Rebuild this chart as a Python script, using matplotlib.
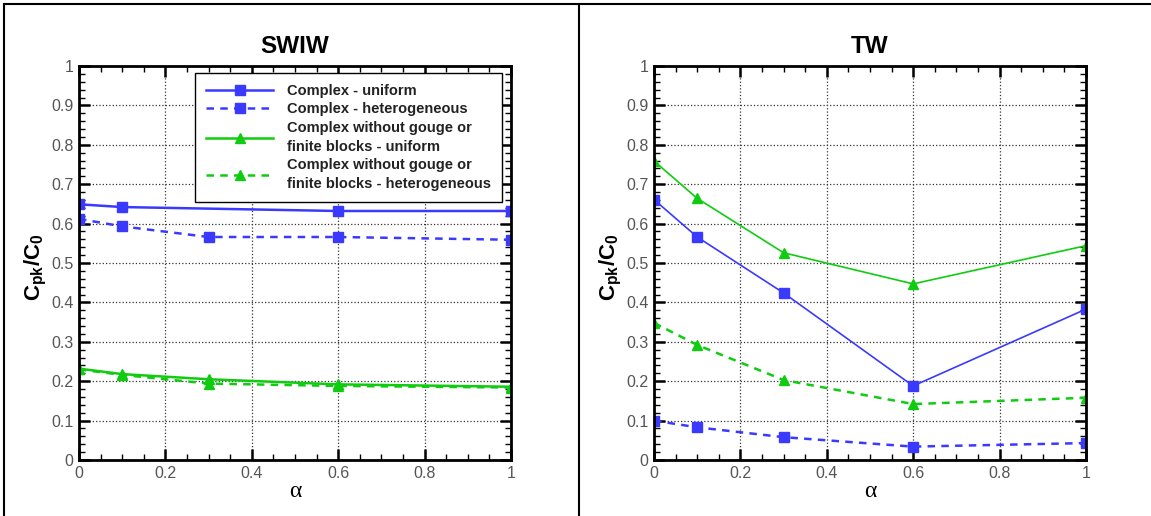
import matplotlib
matplotlib.use("Agg")
import matplotlib.pyplot as plt
from matplotlib.lines import Line2D
from matplotlib.ticker import MultipleLocator

plt.rcParams['font.family'] = ['Liberation Sans', 'DejaVu Sans']
plt.rcParams['mathtext.fontset'] = 'custom'
plt.rcParams['mathtext.rm'] = 'Liberation Sans'
plt.rcParams['mathtext.bf'] = 'Liberation Sans:bold'
plt.rcParams['mathtext.it'] = 'Liberation Sans:italic'

# ---- data ----
alpha = [0, 0.1, 0.3, 0.6, 1.0]
alpha_swiw_uni = [0, 0.1, 0.6, 1.0]

swiw_complex_uni = [0.649, 0.642, 0.632, 0.632]
swiw_complex_het = [0.612, 0.593, 0.566, 0.566, 0.559]
swiw_simple_uni = [0.232, 0.218, 0.205, 0.192, 0.186]
swiw_simple_het = [0.230, 0.216, 0.194, 0.188, 0.184]

tw_complex_uni = [0.661, 0.566, 0.424, 0.188, 0.383]
tw_complex_het = [0.100, 0.083, 0.058, 0.034, 0.043]
tw_simple_uni = [0.759, 0.664, 0.526, 0.447, 0.544]
tw_simple_het = [0.348, 0.292, 0.203, 0.142, 0.158]

labels = ["Complex - uniform",
          "Complex - heterogeneous",
          "Complex without gouge or\nfinite blocks - uniform",
          "Complex without gouge or\nfinite blocks - heterogeneous"]

BLUE = "#3a3aff"
GREEN = "#10cc10"
DASH = (0, (3, 2.5))

fig = plt.figure(figsize=(11.51, 5.16), dpi=100)
ax1 = fig.add_axes([0.0686, 0.1085, 0.3753, 0.7636])
ax2 = fig.add_axes([0.5682, 0.1085, 0.3753, 0.7636])


def style_axes(ax, title):
    ax.set_xlim(0, 1)
    ax.set_ylim(0, 1)
    ax.xaxis.set_major_locator(MultipleLocator(0.2))
    ax.xaxis.set_minor_locator(MultipleLocator(0.05))
    ax.yaxis.set_major_locator(MultipleLocator(0.1))
    ax.yaxis.set_minor_locator(MultipleLocator(0.02))
    ax.tick_params(which='both', direction='in', top=True, right=True, color='k')
    ax.tick_params(which='major', length=8, width=1.8, labelsize=11.5,
                   labelcolor='#555555', pad=4)
    ax.tick_params(which='minor', length=4.5, width=1.0)
    ax.xaxis.set_major_formatter(plt.FuncFormatter(lambda v, p: f"{v:g}"))
    ax.yaxis.set_major_formatter(plt.FuncFormatter(lambda v, p: f"{v:g}"))
    for s in ax.spines.values():
        s.set_linewidth(2)
    ax.grid(True, which='major', color='#333333', linestyle=':', linewidth=0.9)
    ax.set_axisbelow(True)
    ax.set_title(title, fontsize=17.5, fontweight='bold', pad=9)
    ax.set_xlabel("α", fontsize=17, family=['Liberation Serif', 'DejaVu Serif'], labelpad=0)
    ax.set_ylabel(r"$\mathbf{C_{pk}/C_0}$", fontsize=16)
    ax.yaxis.set_label_coords(-0.07, 0.49)


# SWIW
ax1.plot(alpha_swiw_uni, swiw_complex_uni, color=BLUE, lw=1.8, marker='s', ms=7, label=labels[0])
ax1.plot(alpha, swiw_complex_het, color=BLUE, lw=1.8, ls=DASH, marker='s', ms=7, label=labels[1])
ax1.plot(alpha, swiw_simple_uni, color=GREEN, lw=1.8, marker='^', ms=7, label=labels[2])
ax1.plot(alpha, swiw_simple_het, color=GREEN, lw=1.8, ls=DASH, marker='^', ms=7, label=labels[3])
style_axes(ax1, "SWIW")

leg = ax1.legend(loc='upper right', bbox_to_anchor=(0.979, 0.982), fancybox=False,
                 framealpha=1, edgecolor='k', handlelength=4.6, handletextpad=0.95,
                 labelspacing=0.3, borderpad=0.75, borderaxespad=0,
                 prop={'size': 10.5, 'weight': 'bold'})
leg.get_frame().set_linewidth(1.0)
for t in leg.get_texts():
    t.set_color('#222222')
    t.set_linespacing(1.45)

# TW
ax2.plot(alpha, tw_complex_uni, color=BLUE, lw=1.2, marker='s', ms=7)
ax2.plot(alpha, tw_complex_het, color=BLUE, lw=1.8, ls=DASH, marker='s', ms=7)
ax2.plot(alpha, tw_simple_uni, color=GREEN, lw=1.2, marker='^', ms=7)
ax2.plot(alpha, tw_simple_het, color=GREEN, lw=1.8, ls=DASH, marker='^', ms=7)
style_axes(ax2, "TW")

# outer frame lines
W, H = 1151, 516
fig.add_artist(Line2D([4 / W, 1], [1 - 4 / H, 1 - 4 / H], color='k', lw=1.5))
fig.add_artist(Line2D([4 / W, 4 / W], [0, 1 - 4 / H], color='k', lw=1.5))
fig.add_artist(Line2D([579 / W, 579 / W], [0, 1 - 4 / H], color='k', lw=1.5))

fig.savefig("out.png", dpi=100)
